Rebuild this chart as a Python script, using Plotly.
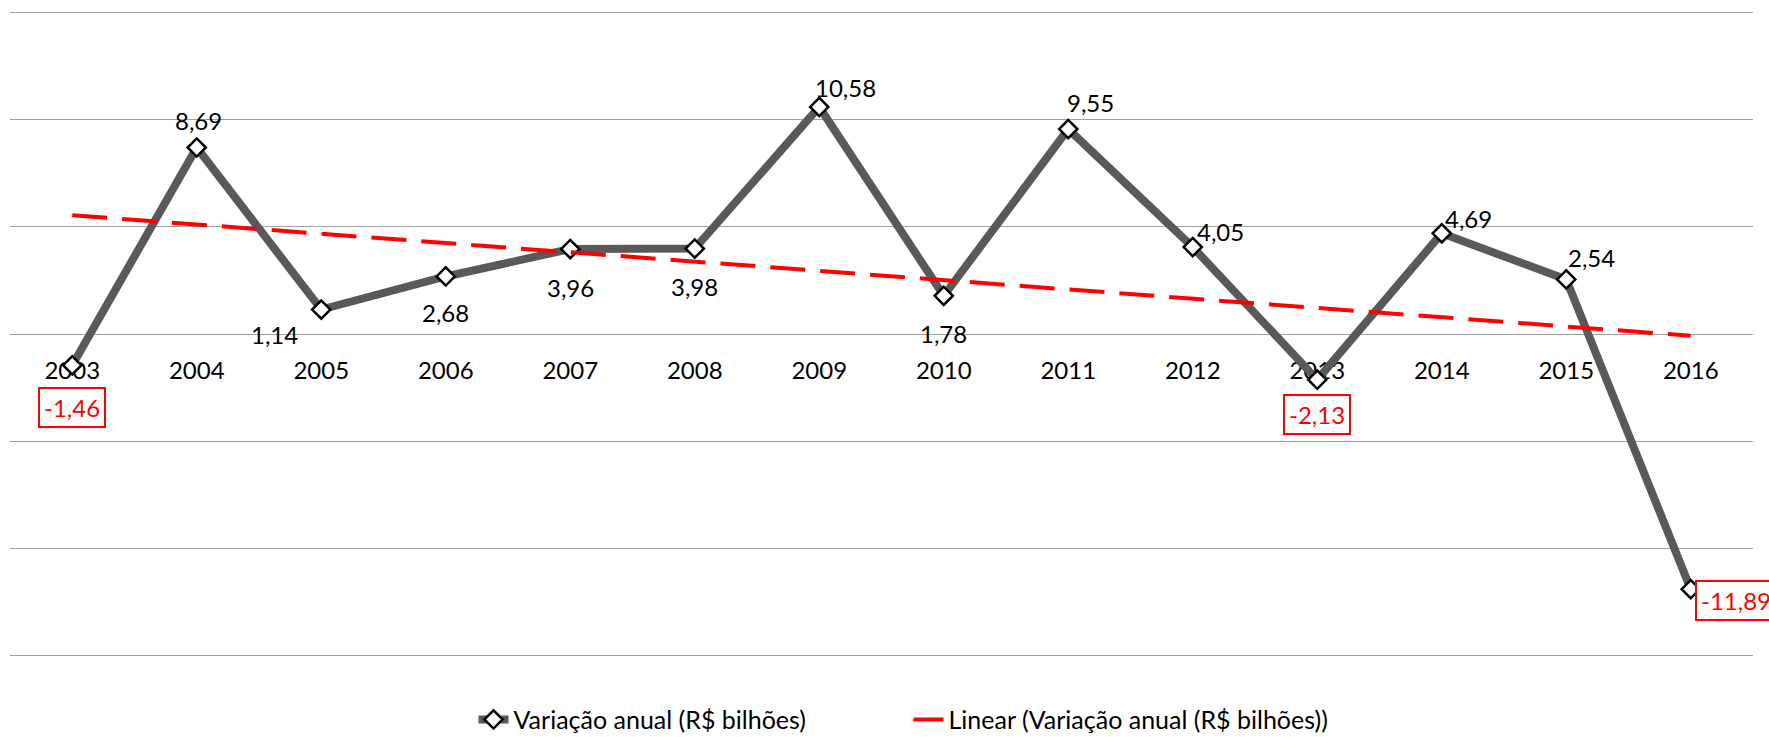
import numpy as np
import plotly.graph_objects as go

years = ["2003", "2004", "2005", "2006", "2007", "2008", "2009",
         "2010", "2011", "2012", "2013", "2014", "2015", "2016"]
values = [-1.46, 8.69, 1.14, 2.68, 3.96, 3.98, 10.58,
          1.78, 9.55, 4.05, -2.13, 4.69, 2.54, -11.89]
series_name = "Variação anual (R$ bilhões)"
trend_name = "Linear (Variação anual (R$ bilhões))"

# label offsets (pixels) per point: (xshift, yshift, boxed, xanchor)
label_offsets = [(0, -42, True, "center"), (2, 27, False, "center"), (-47, -25, False, "center"),
                 (0, -36, False, "center"), (0, -38, False, "center"), (0, -38, False, "center"),
                 (26, 19, False, "center"), (0, -38, False, "center"), (22, 27, False, "center"),
                 (28, 16, False, "center"), (0, -35, True, "center"), (27, 15, False, "center"),
                 (25, 22, False, "center"), (4, -11, True, "left")]

FONT = "Lato, 'Open Sans', sans-serif"
idx = np.arange(len(values))
slope, intercept = np.polyfit(idx, np.array(values), 1)
trend = slope * idx + intercept

fig = go.Figure()
fig.add_trace(go.Scatter(
    x=years, y=values, mode="lines+markers", name=series_name,
    line=dict(color="#595959", width=8),
    marker=dict(symbol="diamond", size=14, color="white",
                line=dict(color="black", width=2.5)),
))
fig.add_trace(go.Scatter(
    x=years, y=trend, mode="lines", name=trend_name,
    line=dict(color="#ff0000", width=4, dash="35px,15px"),
))

for i, (v, (dx, dy, boxed, xa)) in enumerate(zip(values, label_offsets)):
    txt = f"{v:.2f}".replace(".", ",")
    if boxed:
        fig.add_annotation(x=i, y=v, xref="x", yref="y", text=txt, showarrow=False,
                           xshift=dx, yshift=dy, xanchor=xa,
                           font=dict(family=FONT, size=24, color="#ff0000"),
                           bordercolor="#ff0000", borderwidth=2, borderpad=4, bgcolor="white")
    else:
        fig.add_annotation(x=i, y=v, xref="x", yref="y", text=txt, showarrow=False,
                           xshift=dx, yshift=dy, xanchor=xa,
                           font=dict(family=FONT, size=24, color="black"))

fig.update_layout(
    width=1769, height=737,
    margin=dict(l=10, r=16, t=11, b=80, autoexpand=False),
    paper_bgcolor="white", plot_bgcolor="white",
    font=dict(family=FONT, size=24, color="black"),
    showlegend=True,
    legend=dict(orientation="h", x=0.5155, xanchor="center", y=-0.097, yanchor="middle",
                font=dict(family=FONT, size=25, color="black"),
                entrywidth=390, entrywidthmode="pixels",
                traceorder="normal"),
    xaxis=dict(type="category", range=[-0.5, 13.5], anchor="free", position=0.5,
               showgrid=False, showline=False, zeroline=False,
               ticks="outside", ticklen=15, tickcolor="rgba(0,0,0,0)",
               tickfont=dict(family=FONT, size=24, color="black"),
               layer="below traces"),
    yaxis=dict(range=[-15.05, 15.05], dtick=5, tick0=0, showgrid=True, gridcolor="#a0a0a0",
               gridwidth=1.3, zeroline=True, zerolinecolor="#a0a0a0", zerolinewidth=1.3,
               showticklabels=False, showline=False),
)

fig.write_html("out.html", config={"displayModeBar": False},
               post_script="document.body.style.margin='0';document.body.style.overflow='hidden';")
